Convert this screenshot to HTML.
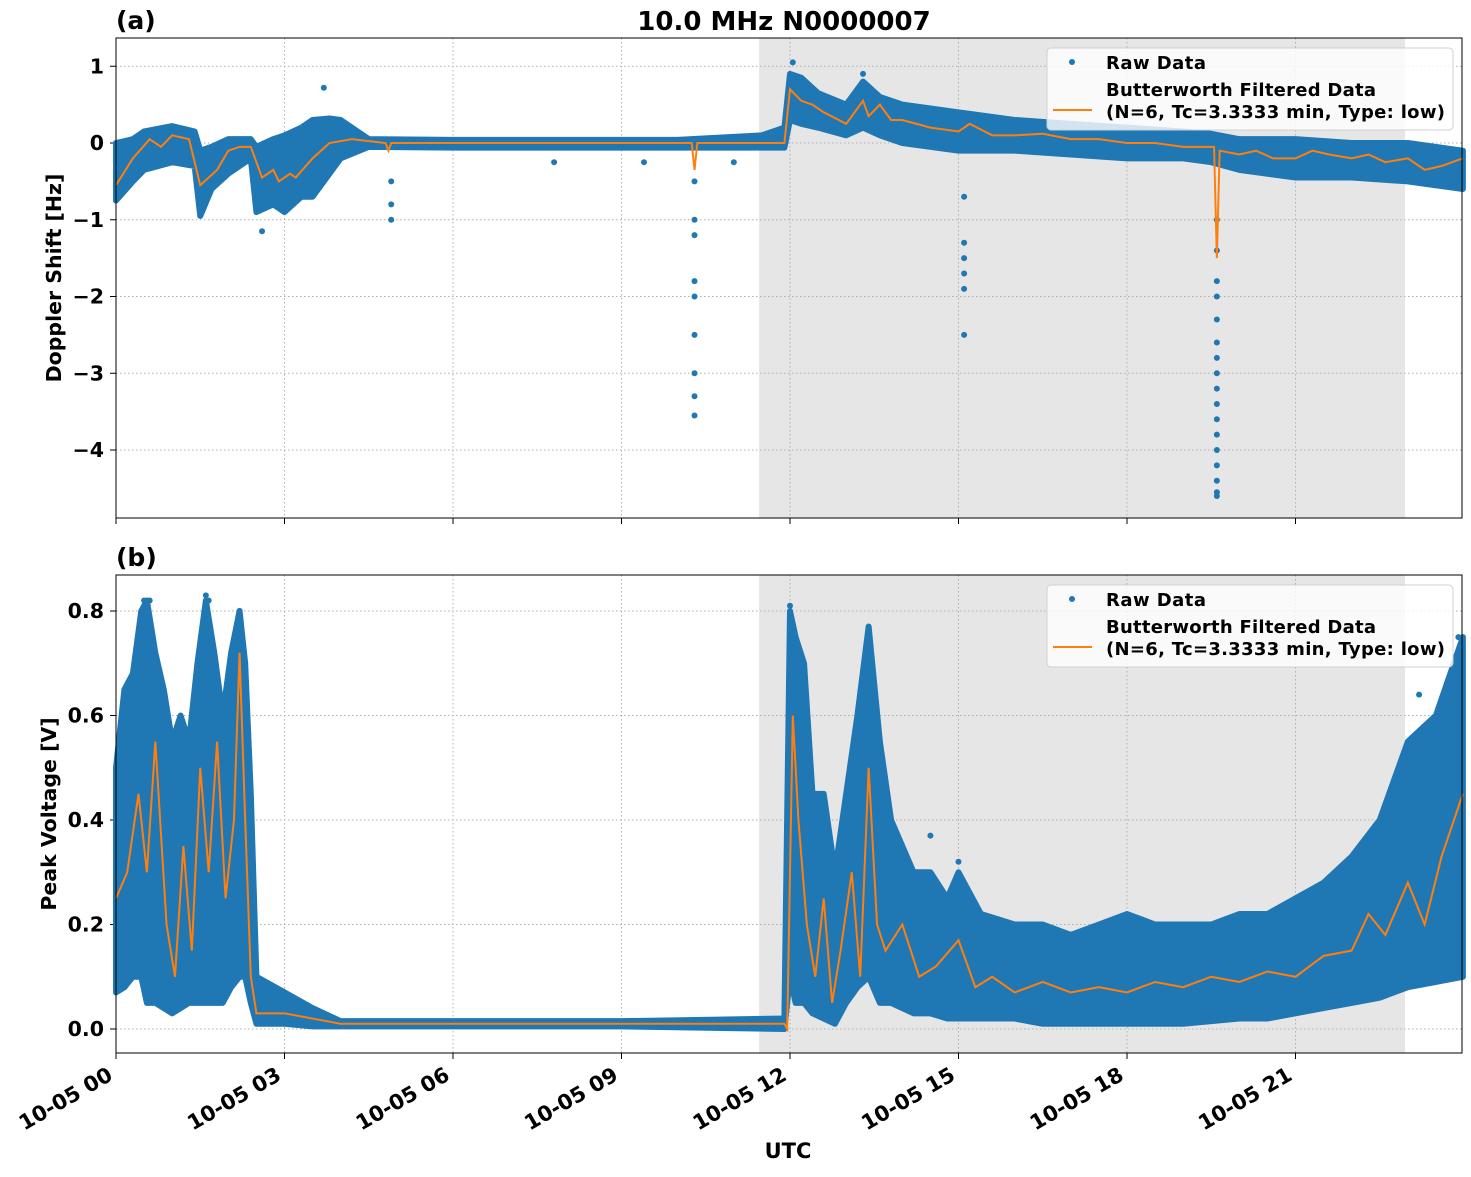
<!DOCTYPE html>
<html><head><meta charset="utf-8"><style>
body{margin:0;background:#fff}
svg text{font-family:"DejaVu Sans","Liberation Sans",sans-serif;font-weight:bold;fill:#000}
</style></head><body>
<svg id="chart" width="1471" height="1172" xmlns="http://www.w3.org/2000/svg"></svg>
<script>
// ---- data ----
const xTicks=[0,3,6,9,12,15,18,21];
const xTickLabels=["10-05 00","10-05 03","10-05 06","10-05 09","10-05 12","10-05 15","10-05 18","10-05 21"];
const shade=[11.45,22.95];
// panel a
const aTicks=[1,0,-1,-2,-3,-4];
const aTickLabels=["1","0","\u22121","\u22122","\u22123","\u22124"];
const aT  =[0,0.3,0.5,1.0,1.4,1.5,1.7,2.0,2.4,2.5,2.8,3.0,3.3,3.5,3.8,4.0,4.5,6,8,10,11.5,11.9,12.0,12.2,12.5,13.0,13.3,13.6,14,15,16,17,18,19,19.5,20,21,22,23,23.98];
const aHi =[0,0.05,0.15,0.22,0.15,-0.1,-0.05,0.05,0.05,-0.05,0.05,0.1,0.2,0.3,0.32,0.3,0.05,0.04,0.04,0.04,0.1,0.2,0.9,0.85,0.65,0.5,0.8,0.6,0.5,0.4,0.3,0.25,0.2,0.15,0.12,0.05,0.05,0,0,-0.1];
const aLo =[-0.75,-0.5,-0.35,-0.25,-0.3,-0.95,-0.6,-0.4,-0.2,-0.9,-0.8,-0.9,-0.7,-0.7,-0.4,-0.2,-0.05,-0.06,-0.06,-0.06,-0.06,-0.06,0.3,0.25,0.2,0.1,0.2,0.1,0,-0.1,-0.1,-0.15,-0.2,-0.2,-0.25,-0.35,-0.45,-0.45,-0.5,-0.6];
const fT  =[0,0.3,0.6,0.8,1.0,1.3,1.5,1.8,2.0,2.2,2.4,2.6,2.8,2.9,3.1,3.2,3.5,3.8,4.2,4.8,4.85,4.9,6,10.25,10.3,10.35,11.9,12.0,12.2,12.4,12.6,13.0,13.2,13.3,13.4,13.6,13.8,14,14.5,15,15.2,15.6,16,16.5,17,17.5,18,18.5,19,19.55,19.6,19.65,20,20.3,20.6,21,21.3,21.6,22,22.3,22.6,23,23.3,23.6,23.98];
const fV  =[-0.55,-0.2,0.05,-0.05,0.1,0.05,-0.55,-0.35,-0.1,-0.05,-0.05,-0.45,-0.35,-0.5,-0.4,-0.45,-0.2,0,0.05,0,-0.1,0,0,0,-0.35,0,0,0.7,0.55,0.5,0.4,0.25,0.45,0.55,0.35,0.5,0.3,0.3,0.2,0.15,0.25,0.1,0.1,0.12,0.05,0.05,0,0,-0.05,-0.05,-1.5,-0.1,-0.15,-0.1,-0.2,-0.2,-0.1,-0.15,-0.2,-0.15,-0.25,-0.2,-0.35,-0.3,-0.2];
const aOutT=[10.3,10.3,10.3,10.3,10.3,10.3,10.3,10.3,10.3,15.1,15.1,15.1,15.1,15.1,15.1,4.9,4.9,4.9,2.6,3.7,12.05,13.3,19.6,19.6,19.6,19.6,19.6,19.6,19.6,19.6,19.6,19.6,19.6,19.6,19.6,19.6,19.6,19.6,19.6,9.4,7.8,11.0];
const aOutV=[-0.5,-1.0,-1.2,-1.8,-2.0,-2.5,-3.0,-3.3,-3.55,-0.7,-1.3,-1.5,-1.7,-1.9,-2.5,-0.5,-0.8,-1.0,-1.15,0.72,1.05,0.9,-1.0,-1.4,-1.8,-2.0,-2.3,-2.6,-2.8,-3.0,-3.2,-3.4,-3.6,-3.8,-4.0,-4.2,-4.4,-4.55,-4.6,-0.25,-0.25,-0.25];
// panel b
const bTicks=[0.8,0.6,0.4,0.2,0.0];
const bTickLabels=["0.8","0.6","0.4","0.2","0.0"];
const bT  =[0,0.15,0.3,0.45,0.55,0.7,0.85,1.0,1.15,1.3,1.45,1.6,1.75,1.9,2.05,2.2,2.3,2.4,2.5,3.0,3.5,4.0,6,9,11.9,12.0,12.1,12.25,12.4,12.6,12.8,13.0,13.2,13.4,13.6,13.8,14.2,14.5,14.8,15,15.4,16,16.5,17,17.5,18,18.5,19,19.5,20,20.5,21,21.5,22,22.5,23,23.5,23.98];
const bHi =[0.5,0.65,0.68,0.8,0.82,0.72,0.65,0.55,0.6,0.55,0.7,0.82,0.72,0.6,0.72,0.8,0.7,0.45,0.1,0.07,0.04,0.015,0.015,0.015,0.02,0.8,0.75,0.7,0.45,0.45,0.3,0.45,0.6,0.77,0.55,0.4,0.3,0.3,0.25,0.3,0.22,0.2,0.2,0.18,0.2,0.22,0.2,0.2,0.2,0.22,0.22,0.25,0.28,0.33,0.4,0.55,0.6,0.75];
const bLo =[0.07,0.08,0.1,0.1,0.05,0.05,0.04,0.03,0.04,0.05,0.05,0.05,0.05,0.05,0.08,0.1,0.1,0.05,0.01,0.01,0.005,0.005,0.005,0.005,0.0,0.1,0.05,0.05,0.03,0.02,0.01,0.05,0.08,0.1,0.05,0.05,0.03,0.03,0.02,0.02,0.02,0.02,0.01,0.01,0.01,0.01,0.01,0.01,0.015,0.02,0.02,0.03,0.04,0.05,0.06,0.08,0.09,0.1];
const gT  =[0,0.2,0.4,0.55,0.7,0.9,1.05,1.2,1.35,1.5,1.65,1.8,1.95,2.1,2.2,2.3,2.4,2.5,3.0,3.5,4.0,8,11.9,11.95,12.05,12.15,12.3,12.45,12.6,12.75,12.9,13.1,13.25,13.4,13.55,13.7,14.0,14.3,14.6,15.0,15.3,15.6,16,16.5,17,17.5,18,18.5,19,19.5,20,20.5,21,21.5,22,22.3,22.6,23,23.3,23.6,23.98];
const gV  =[0.25,0.3,0.45,0.3,0.55,0.2,0.1,0.35,0.15,0.5,0.3,0.55,0.25,0.4,0.72,0.4,0.1,0.03,0.03,0.02,0.01,0.01,0.01,0.0,0.6,0.4,0.2,0.1,0.25,0.05,0.15,0.3,0.1,0.5,0.2,0.15,0.2,0.1,0.12,0.17,0.08,0.1,0.07,0.09,0.07,0.08,0.07,0.09,0.08,0.1,0.09,0.11,0.1,0.14,0.15,0.22,0.18,0.28,0.2,0.33,0.45];
const bOutT=[0.5,0.55,0.6,1.6,1.65,2.2,12.0,13.4,13.4,14.5,15.0,21.0,23.2,23.9,12.75];
const bOutV=[0.82,0.8,0.82,0.83,0.82,0.8,0.81,0.77,0.74,0.37,0.32,0.22,0.64,0.75,0.02];

// ---- layout ----
const svg=document.getElementById('chart');
const NS='http://www.w3.org/2000/svg';
const X0=116,X1=1462,XMAX=(1462-116)/((790-116)/12);
const xs=t=>X0+(X1-X0)*t/XMAX;
const A={top:38,bot:518,y0:143,k:76.75};
const B={top:575,bot:1053,y0:1029,k:522.5};
const ya=v=>A.y0-A.k*v, yb=v=>B.y0-B.k*v;
function el(tag,attrs,parent){const e=document.createElementNS(NS,tag);for(const k in attrs)e.setAttribute(k,attrs[k]);(parent||svg).appendChild(e);return e;}
function txt(s,attrs,parent){const e=el('text',attrs,parent);e.textContent=s;return e;}

function panel(P,ys,ticks,tlabels,T,Hi,Lo,FT,FV,OT,OV,name,ylabel,letter){
  const g=el('g',{});
  
  
  const sh=el('rect',{x:xs(shade[0]),y:P.top,width:xs(shade[1])-xs(shade[0]),height:P.bot-P.top,fill:'#e6e6e6'},g);
  
  
  xTicks.forEach(t=>{el('line',{x1:xs(t),x2:xs(t),y1:P.top,y2:P.bot,stroke:'#b0b0b0','stroke-width':1,'stroke-dasharray':'1.5,2.5'},g);});
  ticks.forEach((v,i)=>{const y=ys(v);
    el('line',{x1:X0,x2:X1,y1:y,y2:y,stroke:'#b0b0b0','stroke-width':1,'stroke-dasharray':'1.5,2.5'},g);
    el('line',{x1:X0-6,x2:X0,y1:y,y2:y,stroke:'#000','stroke-width':1},g);
    const l=txt(tlabels[i],{x:X0-12,y:y+7,'font-size':20.5,'text-anchor':'end'},g);
    
    
  });
  let pts=T.map((t,i)=>xs(t)+','+ys(Hi[i])).concat(T.map((t,i)=>xs(t)+','+ys(Lo[i])).reverse());
  const raw=el('polygon',{points:pts.join(' '),fill:'#1f77b4',stroke:'#1f77b4','stroke-width':6,'stroke-linejoin':'round'},g);
  
  
  OT.forEach((t,i)=>{const c=el('circle',{cx:xs(t),cy:ys(OV[i]),r:3,fill:'#1f77b4'},g);
    
    });
  const fl=el('polyline',{points:FT.map((t,i)=>xs(t)+','+ys(FV[i])).join(' '),fill:'none',stroke:'#ff7f0e','stroke-width':2},g);
  
  
  el('rect',{x:X0,y:P.top,width:X1-X0,height:P.bot-P.top,fill:'none',stroke:'#000','stroke-width':1},g);
  xTicks.forEach(t=>{el('line',{x1:xs(t),x2:xs(t),y1:P.bot,y2:P.bot+6,stroke:'#000'},g);});
  const yl=txt(ylabel,{x:0,y:0,'font-size':20.5,'text-anchor':'middle',transform:`translate(${name==='panel-a'?61:56},${(P.top+P.bot)/2}) rotate(-90)`},g);
  
  
  const lt=txt(letter,{x:116,y:P.top-9,'font-size':25},g);
  
  
  const lg=el('g',{},g);
  
  
  const ly=P.top+10;
  el('rect',{x:1047,y:ly,width:406,height:82,rx:4,fill:'rgba(255,255,255,0.8)',stroke:'#d0d0d0'},lg);
  el('circle',{cx:1072,cy:ly+14,r:3,fill:'#1f77b4'},lg);
  txt('Raw Data',{x:1106,y:ly+21,'font-size':18,textLength:100},lg);
  el('line',{x1:1053,x2:1092,y1:ly+62,y2:ly+62,stroke:'#ff7f0e','stroke-width':2},lg);
  txt('Butterworth Filtered Data',{x:1106,y:ly+48,'font-size':18,textLength:270},lg);
  txt('(N=6, Tc=3.3333 min, Type: low)',{x:1106,y:ly+70,'font-size':18,textLength:339},lg);
}
panel(A,ya,aTicks,aTickLabels,aT,aHi,aLo,fT,fV,aOutT,aOutV,'panel-a','Doppler Shift [Hz]','(a)');
panel(B,yb,bTicks,bTickLabels,bT,bHi,bLo,gT,gV,bOutT,bOutV,'panel-b','Peak Voltage [V]','(b)');
xTicks.forEach((t,i)=>{
  const l=txt(xTickLabels[i],{x:0,y:0,'font-size':21,'text-anchor':'end',transform:`translate(${xs(t)-2},${B.bot+26}) rotate(-30)`});
  
  
});
const xt=txt('UTC',{x:788,y:1158,'font-size':21,'text-anchor':'middle'});


const tt=txt('10.0 MHz N0000007',{x:784,y:30,'font-size':26,'text-anchor':'middle'});


</script>
</body></html>
